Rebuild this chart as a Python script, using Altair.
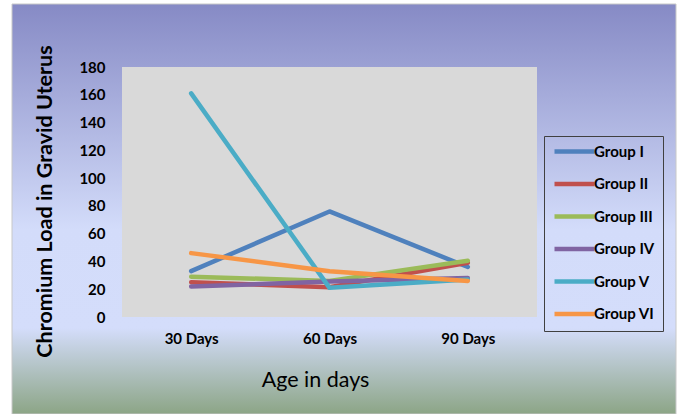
import altair as alt
import pandas as pd

days = ["30 Days", "60 Days", "90 Days"]
groups = ["Group I", "Group II", "Group III", "Group IV", "Group V", "Group VI"]
group_i = [33, 76, 36]
group_ii = [25, 21.5, 39]
group_iii = [29, 26, 40.5]
group_iv = [22, 25.5, 28]
group_v = [161, 21, 27]
group_vi = [46, 33, 26]
colors = ["#4F81BD", "#C0504D", "#9BBB59", "#8064A2", "#4BACC6", "#F79646"]

series = [group_i, group_ii, group_iii, group_iv, group_v, group_vi]
rows = []
for g, vals in zip(groups, series):
    for d, v in zip(days, vals):
        rows.append({"day": d, "group": g, "value": v})
df = pd.DataFrame(rows)

FONT = "Lato"
W, H = 415, 250

bg = alt.Chart(alt.Data(values=[{}])).mark_rect(
    fill=alt.LinearGradient(
        gradient="linear", x1=0, x2=0, y1=0, y2=1,
        stops=[
            alt.GradientStop(color="#868ac5", offset=0),
            alt.GradientStop(color="#d3dcfa", offset=0.55),
            alt.GradientStop(color="#d4ddfb", offset=0.79),
            alt.GradientStop(color="#8ca586", offset=1),
        ],
    ),
    stroke="#c8c8c8",
    strokeWidth=1,
).encode(
    x=alt.value(-110), x2=alt.value(554), y=alt.value(-63), y2=alt.value(347)
)

plot_bg = alt.Chart(alt.Data(values=[{}])).mark_rect(fill="#d9d9d9").encode(
    x=alt.value(0), x2=alt.value(W), y=alt.value(0), y2=alt.value(H)
)

lines = alt.Chart(df).mark_line(strokeWidth=4.5, strokeCap="round", strokeJoin="round").encode(
    x=alt.X(
        "day:N",
        sort=days,
        scale=alt.Scale(type="point", padding=0.5),
        axis=alt.Axis(
            title="Age in days",
            titleFont=FONT, titleFontSize=21.5, titleFontWeight="normal", titleColor="#000000",
            titleX=193, titleY=63, titleAlign="center", titleBaseline="middle",
            labelFont=FONT, labelFontSize=15, labelFontWeight="bold", labelColor="#000000",
            labelPadding=14, labelAngle=0,
            ticks=False, domain=False, grid=False, zindex=2,
        ),
    ),
    y=alt.Y(
        "value:Q",
        scale=alt.Scale(domain=[0, 180], nice=False),
        axis=alt.Axis(
            title="Chromium Load in Gravid Uterus",
            titleFont=FONT, titleFontSize=21.5, titleFontWeight="bold", titleColor="#000000",
            titleX=-77, titleY=134, titleAngle=-90, titleAlign="center", titleBaseline="middle",
            values=[0, 20, 40, 60, 80, 100, 120, 140, 160, 180],
            labelFont=FONT, labelFontSize=15, labelFontWeight="bold", labelColor="#000000",
            labelPadding=17,
            ticks=False, domain=False, grid=False, zindex=2,
        ),
    ),
    color=alt.Color(
        "group:N",
        sort=groups,
        scale=alt.Scale(domain=groups, range=colors),
        legend=alt.Legend(
            title=None,
            orient="none",
            legendX=422,
            legendY=69,
            direction="vertical",
            strokeColor="#404040",
            padding=8,
            rowPadding=13.5,
            symbolType="M-1,0H7",
            symbolSize=100,
            symbolStrokeWidth=4.5,
            labelOffset=27,
            labelFont=FONT,
            labelFontSize=15,
            labelFontWeight="bold",
            labelColor="#000000",
            zindex=2,
        ),
    ),
)

chart = alt.layer(bg, plot_bg, lines).properties(
    width=W,
    height=H,
    autosize=alt.AutoSizeParams(type="none"),
    padding={"left": 122, "top": 67, "right": 143, "bottom": 97},
    background="white",
).configure_view(stroke=None)

chart.save("out.html", embed_options={"renderer": "svg", "actions": False})
